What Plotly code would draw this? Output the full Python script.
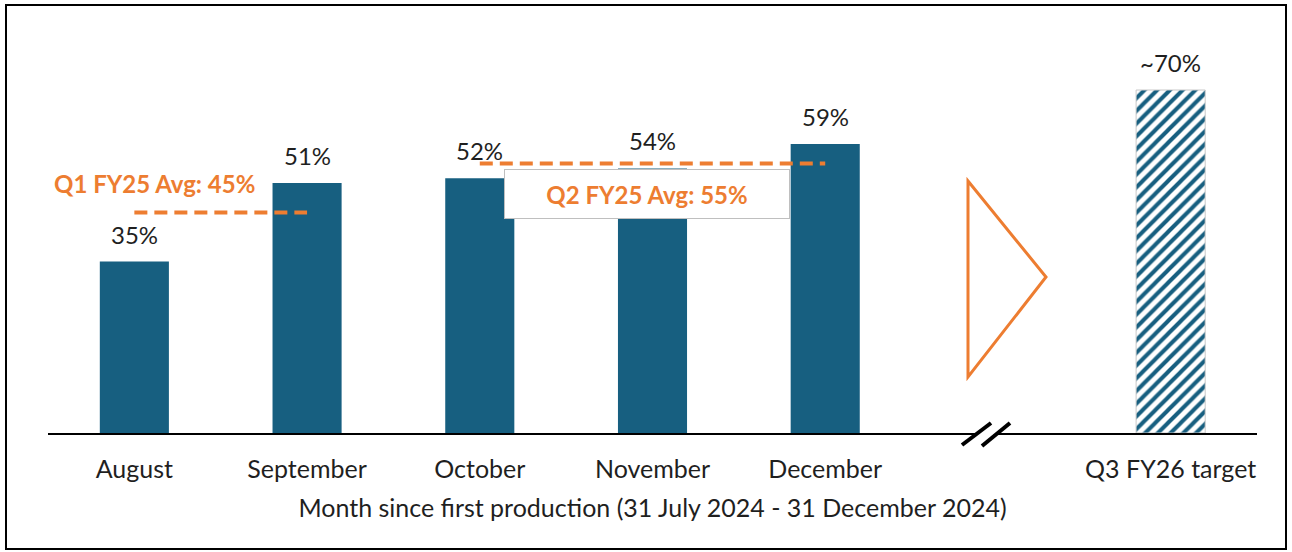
import plotly.graph_objects as go

# data
categories = ["August", "September", "October", "November", "December", " ", "Q3 FY26 target"]
months = ["August", "September", "October", "November", "December"]
utilisation = [35, 51, 52, 54, 59]
month_labels = ["35%", "51%", "52%", "54%", "59%"]
target_cat = ["Q3 FY26 target"]
target_value = [70]
target_labels = ["~70%"]
q1_span = ["August", "September"]
q1_avg = 45
q2_span = ["October", "December"]
q2_avg = 55

BLUE = "#175F80"
ORANGE = "#ED7D31"
TEXT = "#1F1F1F"
FONT = "Lato"

# plot area in pixels: x 48..1257, y 41..433
W, H = 1292, 552
L, R, T, B = 48, 35, 41, 119


def px_x(px):
    return (px - L) / (W - L - R)


def px_y(py):
    return (H - B - py) / (H - B - T)


fig = go.Figure()

fig.add_trace(go.Bar(
    x=months, y=utilisation, width=0.4,
    marker=dict(color=BLUE, line=dict(width=0)),
    hoverinfo="skip", showlegend=False,
))
fig.add_trace(go.Bar(
    x=target_cat, y=target_value, width=0.4,
    marker=dict(
        color="white",
        line=dict(color="#C8C8C8", width=1),
        pattern=dict(shape="/", fgcolor=BLUE, bgcolor="white", size=9, solidity=0.45,
                     fillmode="replace", fgopacity=1),
    ),
    hoverinfo="skip", showlegend=False,
))

# quarterly average lines
for span, avg in [(q1_span, q1_avg), (q2_span, q2_avg)]:
    fig.add_trace(go.Scatter(
        x=span, y=[avg] * len(span), mode="lines",
        line=dict(color=ORANGE, width=4, dash="13px,7px"),
        hoverinfo="skip", showlegend=False,
    ))

annotations = []
for cat, val, lab in zip(months + target_cat, utilisation + target_value, month_labels + target_labels):
    annotations.append(dict(
        x=cat, y=val, text=lab, showarrow=False, yanchor="bottom", yshift=11,
        font=dict(family=FONT, size=24, color=TEXT),
    ))

annotations.append(dict(
    x=q1_span[0], y=q1_avg, text=f"<b>Q1 FY25 Avg: {q1_avg}%</b>", showarrow=False,
    xshift=20, yshift=29, font=dict(family=FONT, size=24, color=ORANGE),
))
annotations.append(dict(
    x="November", y=q2_avg, text=f"<b>Q2 FY25 Avg: {q2_avg}%</b>", showarrow=False,
    xshift=-6, yshift=-30, width=282, height=46, borderpad=1, borderwidth=1,
    bordercolor="#BFBFBF", bgcolor="white",
    font=dict(family=FONT, size=24, color=ORANGE),
))

shapes = [
    # outer frame
    dict(type="rect", xref="paper", yref="paper",
         x0=px_x(6), x1=px_x(1286), y0=px_y(549), y1=px_y(5),
         line=dict(color="black", width=2), layer="below"),
    # "next step" triangle
    dict(type="path", xref="paper", yref="paper",
         path=f"M {px_x(968)} {px_y(181)} L {px_x(1046)} {px_y(277)} L {px_x(968)} {px_y(377)} Z",
         line=dict(color=ORANGE, width=3), fillcolor="rgba(0,0,0,0)"),
    # axis break: white gap + two slashes
    dict(type="path", xref="paper", yref="paper",
         path=(f"M {px_x(965)} {px_y(444)} L {px_x(992)} {px_y(423)} "
               f"L {px_x(1008)} {px_y(423)} L {px_x(981)} {px_y(445)} Z"),
         line=dict(width=0), fillcolor="white"),
    dict(type="line", xref="paper", yref="paper",
         x0=px_x(962), y0=px_y(445), x1=px_x(991), y1=px_y(423),
         line=dict(color="black", width=4)),
    dict(type="line", xref="paper", yref="paper",
         x0=px_x(982), y0=px_y(446), x1=px_x(1010), y1=px_y(423),
         line=dict(color="black", width=4)),
]

fig.update_layout(
    width=W, height=H,
    margin=dict(l=L, r=R, t=T, b=B),
    paper_bgcolor="white", plot_bgcolor="white",
    barmode="overlay",
    font=dict(family=FONT, color=TEXT),
    annotations=annotations,
    shapes=shapes,
    xaxis=dict(
        type="category", categoryorder="array", categoryarray=categories,
        range=[-0.5, len(categories) - 0.5],
        showline=True, linecolor="black", linewidth=2,
        ticks="outside", ticklen=13, tickcolor="rgba(0,0,0,0)",
        tickfont=dict(family=FONT, size=25, color=TEXT),
        showgrid=False, zeroline=False,
        title=dict(text="Month since first production (31 July 2024 - 31 December 2024)",
                   font=dict(family=FONT, size=25, color=TEXT), standoff=17),
    ),
    yaxis=dict(range=[0, 80], visible=False, showgrid=False, zeroline=False),
)

# drop the default 8px body margin so the figure sits at the page origin
fig.write_html(
    "out.html",
    config={"displayModeBar": False},
    post_script="document.body.style.margin='0';document.body.style.overflow='hidden';",
)
